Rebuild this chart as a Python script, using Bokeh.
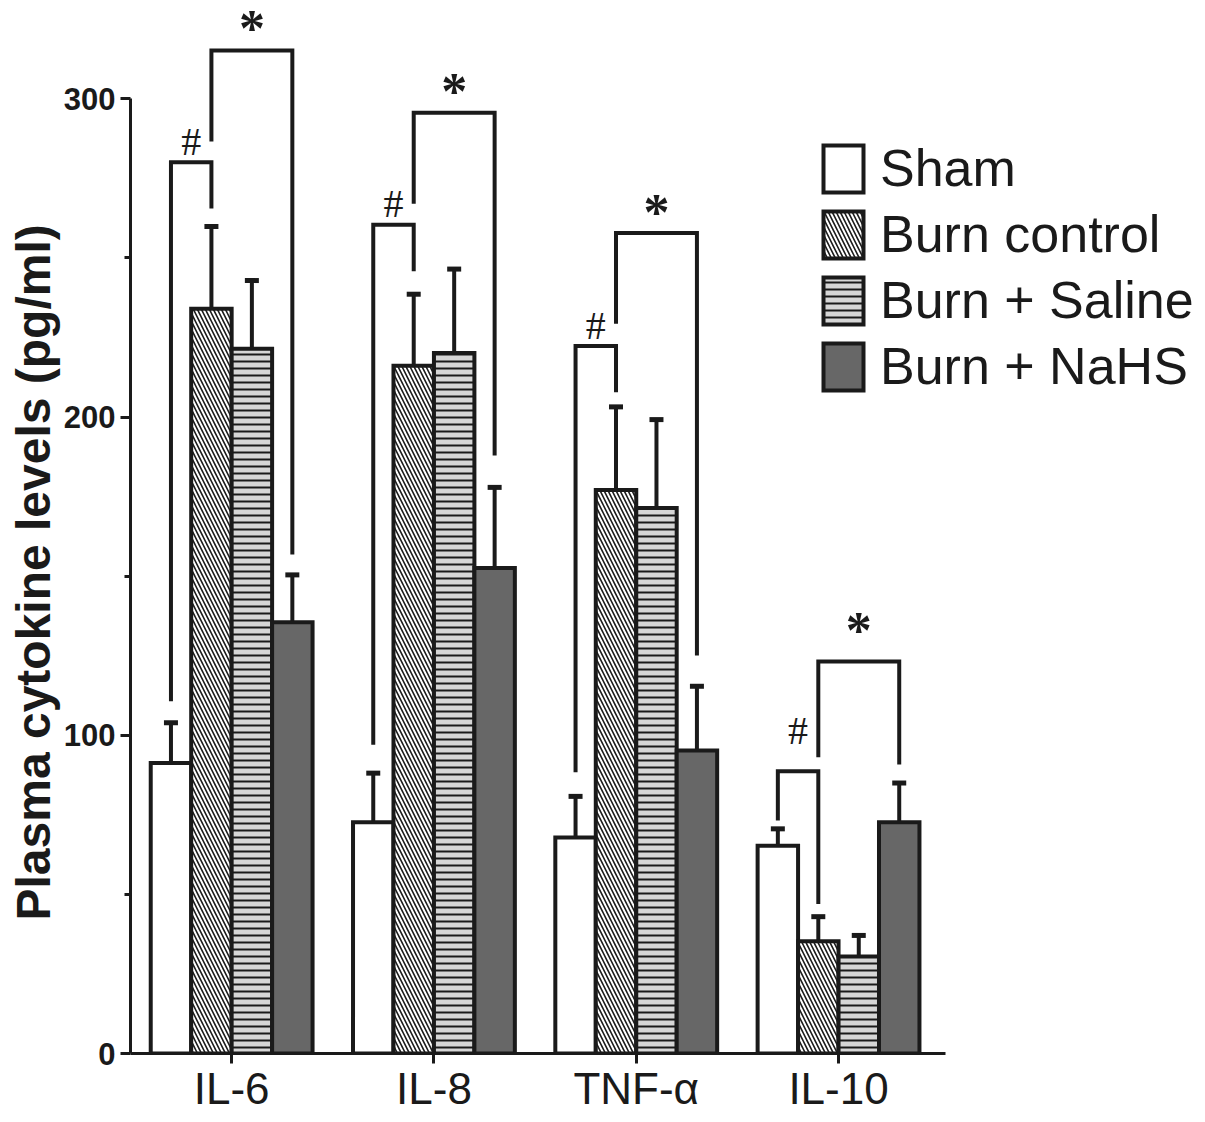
from bokeh.plotting import figure
from bokeh.models import (ColumnDataSource, Range1d, FixedTicker, Whisker, TeeHead,
                          Legend, LegendItem, Title)
from bokeh.core.properties import value
from bokeh.embed import file_html
from bokeh.resources import INLINE

groups = ["IL-6", "IL-8", "TNF-α", "IL-10"]
series = ["Sham", "Burn control", "Burn + Saline", "Burn + NaHS"]

sham_mean = [91.3, 72.7, 67.9, 65.3]
sham_sem = [12.6, 15.4, 12.9, 5.3]
burn_mean = [234.0, 216.1, 177.1, 35.3]
burn_sem = [25.9, 22.5, 26.1, 7.7]
saline_mean = [221.5, 220.1, 171.4, 30.5]
saline_sem = [21.4, 26.4, 27.8, 6.6]
nahs_mean = [135.5, 152.6, 95.2, 72.7]
nahs_sem = [14.9, 25.3, 20.2, 12.3]

# significance brackets: "#" sham vs burn control, "*" burn control vs NaHS
hash_top = [280.1, 260.4, 222.3, 88.7]
hash_left_end = [110.7, 97.0, 88.4, 73.2]
hash_right_end = [265.5, 245.8, 207.8, 47.0]
hash_text_y = [286.7, 267.0, 228.9, 101.4]
star_top = [315.2, 295.6, 257.8, 123.2]
star_left_end = [286.6, 267.0, 229.3, 93.1]
star_right_end = [156.8, 187.9, 125.1, 90.8]
star_text_y = [322.1, 302.3, 264.3, 132.8]

INK = "#1a1a1a"
FONT = "Liberation Sans"
BAR_W = 0.2
offsets = [-0.3, -0.1, 0.1, 0.3]
centers = list(range(len(groups)))

p = figure(width=1205, height=1122,
           x_range=Range1d(-0.5, 4.814), y_range=Range1d(0, 330.9),
           output_backend="svg", toolbar_location=None,
           min_border_left=130, min_border_right=0,
           min_border_top=0, min_border_bottom=69)
p.outline_line_color = None
p.xgrid.visible = False
p.ygrid.visible = False

styles = [
    dict(fill_color="white"),
    dict(fill_color="white", hatch_pattern="\\", hatch_color=INK, hatch_scale=8, hatch_weight=1.6),
    dict(fill_color="#d6d6d6", hatch_pattern="-", hatch_color=INK, hatch_scale=7, hatch_weight=2),
    dict(fill_color="#676767"),
]
means = [sham_mean, burn_mean, saline_mean, nahs_mean]
sems = [sham_sem, burn_sem, saline_sem, nahs_sem]

bar_renderers = []
for k in range(4):
    xs = [c + offsets[k] for c in centers]
    src = ColumnDataSource(dict(x=xs, top=means[k],
                                upper=[m + s for m, s in zip(means[k], sems[k])]))
    r = p.vbar(x="x", top="top", bottom=0, width=BAR_W, source=src,
               line_color=INK, line_width=4, line_join="miter", **styles[k])
    bar_renderers.append(r)
    p.add_layout(Whisker(base="x", upper="upper", lower="top", source=src,
                         line_color=INK, line_width=4,
                         upper_head=TeeHead(size=14, line_width=5, line_color=INK),
                         lower_head=None))

# brackets
bxs, bys = [], []
for i, c in enumerate(centers):
    bxs.append([c - 0.3, c - 0.3, c - 0.1, c - 0.1])
    bys.append([hash_left_end[i], hash_top[i], hash_top[i], hash_right_end[i]])
    bxs.append([c - 0.1, c - 0.1, c + 0.3, c + 0.3])
    bys.append([star_left_end[i], star_top[i], star_top[i], star_right_end[i]])
p.multi_line(bxs, bys, line_color=INK, line_width=4, line_join="miter")

p.text(x=[c - 0.2 for c in centers], y=hash_text_y, text=["#"] * 4,
       text_font=value("Liberation Serif"), text_font_size="40px",
       text_align="center", text_baseline="middle", text_color=INK)
p.text(x=[c + 0.1 for c in centers], y=star_text_y, text=["*"] * 4,
       text_font=value("Liberation Serif"), text_font_size="52px", text_font_style="bold",
       text_align="center", text_baseline="middle", text_color=INK)

# axes
xa = p.xaxis[0]
xa.bounds = (-0.5, 3.53)
xa.ticker = FixedTicker(ticks=centers, minor_ticks=[])
xa.major_label_overrides = {c: g for c, g in zip(centers, groups)}
xa.axis_line_width = 3
xa.axis_line_color = INK
xa.major_tick_line_width = 3
xa.major_tick_line_color = INK
xa.major_tick_out = 10
xa.major_tick_in = 0
xa.major_label_standoff = 0
xa.major_label_text_font = FONT
xa.major_label_text_font_size = "44px"
xa.major_label_text_color = INK

ya = p.yaxis[0]
ya.bounds = (0, 300)
ya.ticker = FixedTicker(ticks=[0, 100, 200, 300], minor_ticks=[50, 150, 250])
ya.axis_line_width = 3
ya.axis_line_color = INK
ya.major_tick_line_width = 3
ya.major_tick_line_color = INK
ya.major_tick_out = 10
ya.major_tick_in = 0
ya.minor_tick_line_width = 3
ya.minor_tick_line_color = INK
ya.minor_tick_out = 6
ya.minor_tick_in = 0
ya.major_label_standoff = 5
ya.major_label_text_font = FONT
ya.major_label_text_font_style = "bold"
ya.major_label_text_font_size = "31px"
ya.major_label_text_color = INK

p.add_layout(Title(text="Plasma cytokine levels (pg/ml)", align="left",
                   text_font=FONT, text_font_style="bold", text_font_size="48px",
                   text_color=INK, standoff=2, offset=133), "left")

legend = Legend(items=[LegendItem(label=s, renderers=[r]) for s, r in zip(series, bar_renderers)],
                location=(688, 657), orientation="vertical",
                glyph_width=50, glyph_height=59, label_standoff=12, spacing=6,
                padding=0, margin=0, border_line_color=None, background_fill_alpha=0,
                label_text_font=FONT, label_text_font_size="52px", label_text_color=INK)
p.add_layout(legend)

open("out.html", "w").write(file_html(p, INLINE))
